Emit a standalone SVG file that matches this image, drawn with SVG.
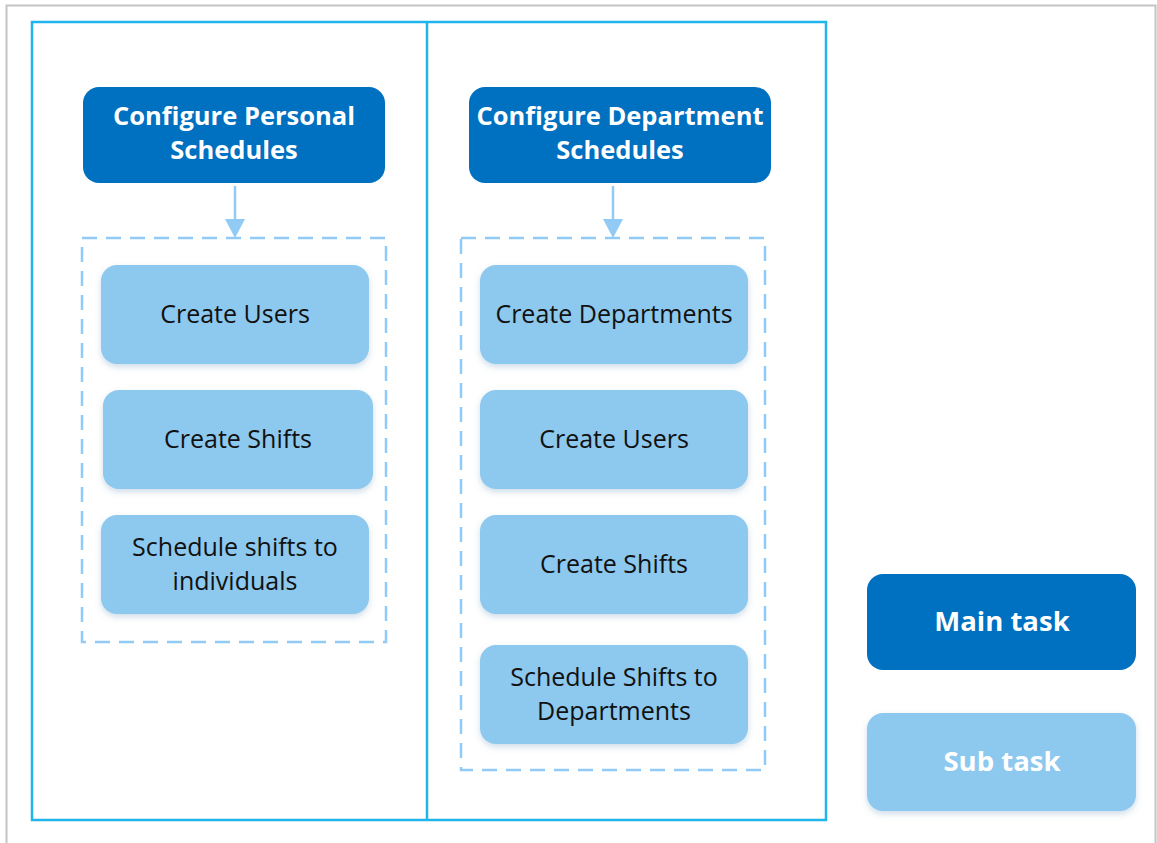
<svg xmlns="http://www.w3.org/2000/svg" width="1157" height="843" viewBox="0 0 1157 843">
<style>
.frame{fill:none;stroke:#1fb4ec;stroke-width:2.5}
.main rect{fill:#0070c0}
.main text{fill:#ffffff;font-family:"Open Sans","Liberation Sans",sans-serif;font-weight:bold;font-size:25.5px;text-anchor:middle}
.sub rect{fill:#8dc8ee;filter:url(#sh)}
.sub text{fill:#111111;font-family:"Open Sans","Liberation Sans",sans-serif;font-size:25px;text-anchor:middle}
.legsub text{fill:#ffffff;font-weight:bold;font-size:27.5px}
.legmain text{font-size:27.5px}
.dash{fill:none;stroke:#90caf5;stroke-width:2.5;stroke-dasharray:15 9}
.conn{stroke:#90caf5;stroke-width:2.5;fill:none}
</style>
<defs>
<filter id="sh" x="-10%" y="-10%" width="120%" height="130%">
<feDropShadow dx="0" dy="3" stdDeviation="3" flood-color="#5a8fb8" flood-opacity="0.3"/>
</filter>
</defs>
<rect width="1157" height="843" fill="#ffffff"/>
<path d="M6.5 843 V5.5 H1155.5 V843" fill="none" stroke="#c4c4c4" stroke-width="2"/>
<g id="frame">
<rect class="frame" x="32" y="22" width="794" height="798"/>
<line class="frame" x1="427" y1="22" x2="427" y2="820"/>
</g>
<g id="groups">
<rect class="dash" x="82" y="238" width="304" height="404"/>
<rect class="dash" x="461" y="238" width="304" height="532"/>
</g>
<g id="connectors">
<line class="conn" x1="235" y1="186" x2="235" y2="222"/>
<path d="M225 219 L245 219 L235 238 Z" fill="#90caf5"/>
<line class="conn" x1="613" y1="186" x2="613" y2="222"/>
<path d="M603 219 L623 219 L613 238 Z" fill="#90caf5"/>
</g>
<g id="main-personal" class="main">
<rect x="83" y="87" width="302" height="96" rx="16"/>
<text x="234" y="125">Configure Personal</text>
<text x="234" y="159">Schedules</text>
</g>
<g id="main-department" class="main">
<rect x="469" y="87" width="302" height="96" rx="16"/>
<text x="620" y="125">Configure Department</text>
<text x="620" y="159">Schedules</text>
</g>
<g id="p-users" class="sub">
<rect x="101" y="265" width="268" height="99" rx="16"/>
<text x="235" y="323">Create Users</text>
</g>
<g id="p-shifts" class="sub">
<rect x="103" y="390" width="270" height="99" rx="16"/>
<text x="238" y="448">Create Shifts</text>
</g>
<g id="p-schedule" class="sub">
<rect x="101" y="515" width="268" height="99" rx="16"/>
<text x="235" y="556">Schedule shifts to</text>
<text x="235" y="590">individuals</text>
</g>
<g id="d-departments" class="sub">
<rect x="480" y="265" width="268" height="99" rx="16"/>
<text x="614" y="323">Create Departments</text>
</g>
<g id="d-users" class="sub">
<rect x="480" y="390" width="268" height="99" rx="16"/>
<text x="614" y="448">Create Users</text>
</g>
<g id="d-shifts" class="sub">
<rect x="480" y="515" width="268" height="99" rx="16"/>
<text x="614" y="573">Create Shifts</text>
</g>
<g id="d-schedule" class="sub">
<rect x="480" y="645" width="268" height="99" rx="16"/>
<text x="614" y="686">Schedule Shifts to</text>
<text x="614" y="720">Departments</text>
</g>
<g id="legend-main" class="main legmain">
<rect x="867" y="574" width="269" height="96" rx="16"/>
<text x="1002" y="631">Main task</text>
</g>
<g id="legend-sub" class="sub legsub">
<rect x="867" y="713" width="269" height="98" rx="16"/>
<text x="1002" y="771">Sub task</text>
</g>
</svg>
